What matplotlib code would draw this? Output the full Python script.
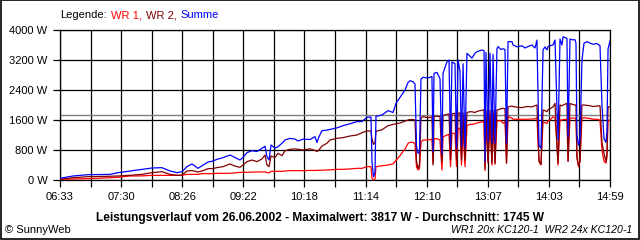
import numpy as np
import matplotlib
matplotlib.use("Agg")
import matplotlib.pyplot as plt
from matplotlib.patches import Rectangle

# minutes after 06:33, values in W
t_min = [
    0.0, 12.0, 25.8, 46.0, 53.4, 64.4, 75.4, 84.6, 93.8, 101.2,
    107.6, 112.2, 116.8, 121.4, 127.0, 130.6, 136.2, 140.8, 144.4, 150.0,
    156.4, 161.0, 165.6, 168.4, 172.0, 176.6, 181.2, 185.8, 188.6, 190.4,
    192.3, 194.1, 197.8, 200.6, 204.2, 207.0, 211.6, 216.2, 219.0, 223.6,
    230.0, 234.6, 236.4, 238.3, 241.0, 245.6, 248.4, 254.8, 260.4, 266.8,
    273.2, 277.8, 282.4, 286.1, 287.0, 288.4, 289.8, 290.7, 296.2, 301.8,
    306.4, 309.1, 312.8, 317.4, 320.2, 322.0, 324.8, 326.6, 328.0, 329.4,
    330.7, 332.1, 334.0, 338.6, 342.2, 343.2, 344.1, 346.8, 349.6, 351.4,
    352.4, 356.0, 357.9, 359.3, 360.6, 363.4, 364.8, 366.2, 368.0, 369.4,
    370.8, 372.6, 374.4, 377.2, 379.0, 381.8, 383.6, 388.2, 390.1, 391.0,
    391.9, 393.8, 395.6, 397.4, 398.4, 400.2, 402.0, 403.0, 405.7, 407.6,
    409.4, 410.8, 412.2, 415.8, 416.8, 420.4, 425.0, 427.8, 430.6, 434.2,
    437.0, 438.8, 440.7, 442.5, 444.4, 446.2, 448.0, 449.0, 450.8, 453.6,
    455.4, 457.2, 458.2, 460.0, 461.8, 462.8, 466.4, 467.4, 469.2, 471.0,
    473.8, 474.7, 475.6, 477.0, 478.4, 480.2, 482.1, 484.8, 487.6, 490.4,
    494.0, 496.8, 498.6, 500.5, 502.3, 503.2, 504.2, 506.0,
]
wr1 = [
    18, 25, 36, 62, 70, 107, 110, 124, 124, 124,
    124, 124, 151, 151, 151, 169, 169, 169, 178, 178,
    178, 190, 204, 204, 204, 210, 215, 215, 215, 200,
    190, 231, 231, 231, 231, 240, 249, 249, 249, 249,
    255, 255, 255, 260, 260, 265, 270, 284, 284, 295,
    311, 311, 356, 356, 50, 0, 20, 356, 380, 400,
    430, 520, 650, 827, 978, 1004, 1004, 960, 350, 267,
    300, 1000, 1067, 1067, 1090, 450, 1100, 1100, 1067, 267,
    1150, 1200, 1220, 356, 1244, 1244, 356, 1378, 1378, 400,
    1400, 356, 1450, 1484, 1484, 1500, 1520, 1550, 1556, 250,
    1556, 500, 1560, 400, 1560, 420, 1560, 1580, 1580, 1511,
    1550, 450, 1689, 1650, 1620, 1620, 1620, 1620, 1620, 1625,
    1630, 1662, 500, 400, 1556, 1530, 1511, 1580, 1600, 1689,
    1650, 1000, 400, 1600, 1600, 1610, 1620, 500, 1650, 1650,
    1650, 1620, 600, 350, 500, 1650, 1660, 1650, 1640, 1620,
    1620, 1600, 800, 500, 450, 600, 1580, 1600,
]
wr2 = [
    18, 62, 89, 100, 107, 125, 150, 195, 222, 150,
    124, 130, 240, 250, 215, 240, 302, 305, 330, 356,
    427, 370, 338, 400, 489, 533, 489, 560, 667, 400,
    356, 640, 600, 711, 650, 780, 818, 830, 818, 800,
    830, 790, 760, 800, 907, 980, 1067, 1111, 1130, 1173,
    1200, 1262, 1307, 1307, 1100, 950, 1000, 1300, 1340, 1449,
    1480, 1500, 1520, 1570, 1600, 1610, 1610, 1600, 500, 311,
    400, 1650, 1689, 1660, 1680, 400, 1700, 1700, 1690, 480,
    1720, 1750, 1760, 533, 1770, 1778, 533, 1778, 1790, 550,
    1790, 533, 1800, 1820, 1820, 1800, 1830, 1860, 1867, 300,
    1860, 450, 1860, 450, 1860, 450, 1870, 1870, 1900, 1911,
    1900, 450, 1950, 1973, 1960, 1940, 1930, 1950, 1960, 1950,
    1980, 2000, 500, 420, 1867, 1850, 1820, 1870, 1900, 1950,
    2044, 900, 450, 2000, 1980, 2000, 2044, 500, 2044, 2020,
    2000, 2000, 600, 400, 500, 2000, 2000, 1990, 1980, 1960,
    1970, 1980, 1000, 700, 500, 700, 1950, 1950,
]
summe = [
    45, 107, 142, 150, 195, 240, 284, 320, 329, 240,
    195, 220, 356, 427, 311, 380, 480, 507, 551, 596,
    667, 600, 533, 600, 729, 782, 760, 844, 900, 622,
    533, 933, 850, 890, 978, 1067, 1111, 1090, 1040, 1090,
    1080, 1156, 1000, 1156, 1316, 1330, 1350, 1390, 1449, 1500,
    1556, 1560, 1671, 1680, 500, 89, 200, 1700, 1733, 1850,
    1800, 2044, 2204, 2400, 2600, 2649, 2620, 2560, 900, 711,
    750, 2690, 2738, 2720, 2760, 756, 2844, 2870, 2700, 700,
    2850, 3150, 3200, 853, 3150, 3100, 853, 3200, 2900, 900,
    3100, 853, 3378, 3300, 3250, 3380, 3422, 3467, 3450, 500,
    3400, 1022, 3380, 978, 3350, 978, 3500, 3556, 3480, 3500,
    3480, 978, 3689, 3689, 3600, 3550, 3580, 3520, 3560, 3600,
    3520, 3730, 933, 844, 3470, 3550, 3470, 3560, 3580, 3600,
    3733, 1911, 1067, 3760, 3600, 3817, 3780, 1160, 3760, 3740,
    3740, 3650, 1200, 933, 1100, 3200, 3650, 3689, 3650, 3620,
    3640, 3580, 2000, 1100, 1000, 1300, 3500, 3700,
]
x_labels = ["06:33", "07:30", "08:26", "09:22", "10:18",
            "11:14", "12:10", "13:07", "14:03", "14:59"]
y_ticks = [0, 800, 1600, 2400, 3200, 4000]
average = 1745
t_end = 506

plt.rcParams["font.family"] = "Liberation Sans"

fig = plt.figure(figsize=(6.4, 2.4), dpi=100)
ax = fig.add_axes([60 / 640, 1 - 180 / 240, 550 / 640, 150 / 240])

ax.axhline(average, color="#808080", lw=1.0, zorder=2)
ax.plot(t_min, wr1, color="#ff0000", lw=0.9, zorder=3)
ax.plot(t_min, wr2, color="#800000", lw=0.9, zorder=4)
ax.plot(t_min, summe, color="#0000ff", lw=0.9, zorder=5)

xt = np.linspace(0, t_end, 19)
ax.set_xticks(xt)
ax.set_xticklabels([x_labels[i // 2] if i % 2 == 0 else "" for i in range(19)])
ax.set_yticks(y_ticks)
ax.set_yticklabels([f"{v} W" for v in y_ticks])
ax.set_xlim(0, t_end)
ax.set_ylim(0, 4000)
ax.grid(True, color="black", lw=0.9, zorder=1)
for s in ax.spines.values():
    s.set_color("black")
    s.set_linewidth(0.9)
ax.tick_params(direction="out", length=5, width=0.9, labelsize=8, pad=4)

# legend line, pieces placed one after another
renderer = fig.canvas.get_renderer()
fy = 1 - 18 / 240
x = 60
for txt, col in [("Legende:", "black"), ("WR 1,", "#ff0000"),
                 ("WR 2,", "#800000"), ("Summe", "#0000ff")]:
    t = fig.text(x / 640, fy, txt, color=col, fontsize=8, va="baseline", ha="left")
    x = t.get_window_extent(renderer).x1 + 4

fig.text(320 / 640, 1 - 221 / 240,
         "Leistungsverlauf vom 26.06.2002 - Maximalwert: 3817 W - Durchschnitt: 1745 W",
         fontsize=8.6, fontweight="bold", ha="center", va="baseline")
fig.text(5 / 640, 1 - 233 / 240, "\u00a9 SunnyWeb", fontsize=8,
         ha="left", va="baseline")
fig.text(632 / 640, 1 - 233 / 240, "WR1 20x KC120-1  WR2 24x KC120-1",
         fontsize=7.6, fontstyle="italic", ha="right", va="baseline")

fig.patches.append(Rectangle((0.001, 0.003), 0.997, 0.995, transform=fig.transFigure,
                             fill=False, edgecolor="black", lw=1.2))

fig.savefig("out.png", dpi=100)
